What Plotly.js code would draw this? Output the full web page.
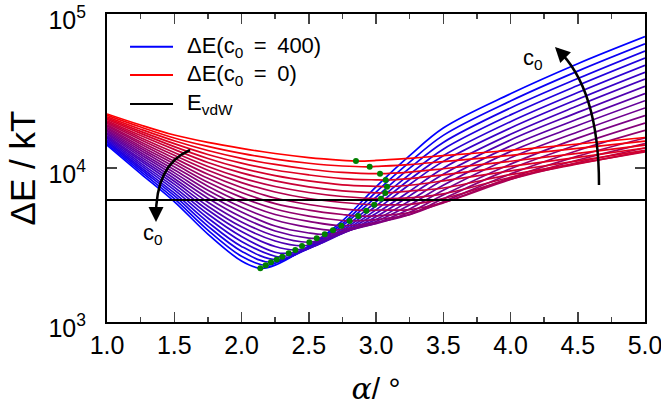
<!DOCTYPE html>
<html>
<head>
<meta charset="utf-8">
<script src="https://cdn.plot.ly/plotly-3.0.1.min.js"></script>
<style>html,body{margin:0;padding:0;background:#fff}</style>
</head>
<body>
<div id="graph" style="width:661px;height:412px"></div>
<script>
// opening angle alpha (deg) where the curves were read
const alphaGrid = [1.0, 1.25, 1.5, 1.75, 2.0, 2.25, 2.5, 2.75, 3.0, 3.25, 3.5, 4.0, 4.5, 5.0];

// log10(dE/kT), first row c0 = 0 (red) ... last row c0 = 400 (blue)
const curveLogE = [
  [4.351, 4.279, 4.214, 4.166, 4.127, 4.094, 4.068, 4.050, 4.049, 4.063, 4.080, 4.115, 4.156, 4.198],
  [4.342, 4.266, 4.195, 4.140, 4.095, 4.058, 4.031, 4.013, 4.010, 4.022, 4.042, 4.082, 4.128, 4.175],
  [4.333, 4.252, 4.177, 4.114, 4.063, 4.023, 3.992, 3.971, 3.964, 3.973, 3.995, 4.044, 4.095, 4.149],
  [4.325, 4.238, 4.158, 4.088, 4.032, 3.987, 3.955, 3.931, 3.923, 3.931, 3.955, 4.011, 4.069, 4.130],
  [4.316, 4.225, 4.139, 4.062, 3.999, 3.951, 3.916, 3.891, 3.881, 3.888, 3.916, 3.981, 4.046, 4.114],
  [4.307, 4.211, 4.121, 4.036, 3.968, 3.916, 3.878, 3.852, 3.839, 3.850, 3.870, 3.957, 4.030, 4.104],
  [4.298, 4.197, 4.101, 4.010, 3.936, 3.880, 3.841, 3.815, 3.801, 3.806, 3.832, 3.939, 4.027, 4.110],
  [4.290, 4.184, 4.083, 3.985, 3.905, 3.844, 3.802, 3.776, 3.762, 3.764, 3.801, 3.928, 4.035, 4.130],
  [4.281, 4.169, 4.064, 3.959, 3.873, 3.805, 3.763, 3.734, 3.727, 3.730, 3.776, 3.926, 4.052, 4.159],
  [4.272, 4.156, 4.045, 3.933, 3.841, 3.769, 3.727, 3.698, 3.689, 3.710, 3.773, 3.937, 4.077, 4.195],
  [4.263, 4.142, 4.027, 3.907, 3.809, 3.734, 3.688, 3.659, 3.665, 3.697, 3.781, 3.962, 4.114, 4.244],
  [4.255, 4.129, 4.008, 3.882, 3.777, 3.698, 3.653, 3.626, 3.646, 3.698, 3.801, 3.995, 4.152, 4.292],
  [4.245, 4.115, 3.989, 3.855, 3.745, 3.662, 3.614, 3.603, 3.639, 3.713, 3.824, 4.025, 4.194, 4.341],
  [4.237, 4.101, 3.970, 3.830, 3.714, 3.623, 3.578, 3.589, 3.642, 3.734, 3.855, 4.066, 4.234, 4.390],
  [4.228, 4.088, 3.951, 3.804, 3.682, 3.591, 3.545, 3.582, 3.653, 3.760, 3.888, 4.107, 4.276, 4.437],
  [4.219, 4.074, 3.932, 3.778, 3.650, 3.558, 3.518, 3.577, 3.665, 3.787, 3.923, 4.143, 4.318, 4.484],
  [4.210, 4.060, 3.914, 3.752, 3.618, 3.526, 3.501, 3.575, 3.684, 3.819, 3.960, 4.182, 4.361, 4.531],
  [4.202, 4.047, 3.895, 3.727, 3.587, 3.490, 3.482, 3.577, 3.705, 3.849, 3.999, 4.219, 4.404, 4.577],
  [4.193, 4.032, 3.876, 3.701, 3.555, 3.453, 3.478, 3.585, 3.728, 3.893, 4.043, 4.260, 4.447, 4.622],
  [4.184, 4.019, 3.858, 3.675, 3.523, 3.427, 3.477, 3.594, 3.753, 3.925, 4.080, 4.301, 4.490, 4.667],
  [4.175, 4.005, 3.838, 3.649, 3.491, 3.405, 3.478, 3.606, 3.780, 3.959, 4.122, 4.345, 4.536, 4.714],
  [4.167, 3.992, 3.820, 3.623, 3.460, 3.393, 3.483, 3.624, 3.811, 3.999, 4.166, 4.390, 4.581, 4.760],
  [4.158, 3.978, 3.801, 3.597, 3.427, 3.381, 3.488, 3.638, 3.844, 4.038, 4.212, 4.435, 4.629, 4.806],
  [4.149, 3.964, 3.782, 3.571, 3.396, 3.369, 3.493, 3.657, 3.878, 4.080, 4.260, 4.482, 4.677, 4.853]
];

// minima of each curve (green dots), same order as curveLogE
const minAlpha = [2.851, 2.953, 3.030, 3.072, 3.082, 3.069, 3.037, 2.987, 2.928, 2.868, 2.804, 2.742,
                  2.680, 2.619, 2.559, 2.504, 2.450, 2.400, 2.351, 2.303, 2.262, 2.219, 2.180, 2.140];
const minLogE = [4.045, 4.008, 3.963, 3.922, 3.879, 3.838, 3.801, 3.762, 3.723, 3.688, 3.656, 3.625,
                 3.595, 3.569, 3.544, 3.518, 3.494, 3.468, 3.446, 3.424, 3.405, 3.388, 3.368, 3.349];

const eVdW = 6200;

const legendNames = ["ΔE(c<sub>0</sub> \u2009=\u2009 400)", "ΔE(c<sub>0</sub> \u2009=\u2009 0)", "E<sub>vdW</sub>"];
const legendColors = ["rgb(0,0,255)", "rgb(255,0,0)", "black"];

const nCurves = curveLogE.length;
const traces = [];

// blue first so the red ones end up on top
for (let k = nCurves - 1; k >= 0; k--) {
    const t = k / (nCurves - 1);
    const pts = [];
    alphaGrid.forEach((a, i) => {
        if (Math.abs(a - minAlpha[k]) > 0.04) pts.push([a, curveLogE[k][i]]);
    });
    pts.push([minAlpha[k], minLogE[k]]);
    pts.sort((p, q) => p[0] - q[0]);

    traces.push({
        x: pts.map(p => p[0]),
        y: pts.map(p => Math.pow(10, p[1])),
        type: "scatter",
        mode: "lines",
        line: { color: `rgb(${Math.round(255 * (1 - t))},0,${Math.round(255 * t)})`, width: 1.7, shape: "spline", smoothing: 1 },
        name: k === 0 ? legendNames[1] : legendNames[0],
        hoverinfo: "skip"
    });
}

traces.push({
    x: [alphaGrid[0], alphaGrid[alphaGrid.length - 1]],
    y: [eVdW, eVdW],
    type: "scatter",
    mode: "lines",
    line: { color: "black", width: 2 },
    name: legendNames[2]
});

traces.push({
    x: minAlpha,
    y: minLogE.map(v => Math.pow(10, v)),
    type: "scatter",
    mode: "markers",
    marker: { color: "#008000", size: 6 }
});

// legend drawn by hand so the line samples get the reference length
const legendRows = [0.8938, 0.8019, 0.7078];
const shapes = legendRows.map((y, i) => ({
    type: "line", xref: "paper", yref: "paper", x0: 0.0428, x1: 0.1227, y0: y, y1: y,
    line: { color: legendColors[i], width: 2 }
}));
const annotations = legendRows.map((y, i) => ({
    xref: "paper", yref: "paper", x: 0.145, y: y, xanchor: "left", yanchor: "middle",
    text: legendNames[i], showarrow: false, font: { size: 22 }
}));

// curved c0 arrows
shapes.push(
    { type: "path", xref: "paper", yref: "paper", path: "M0.1543,0.5584 Q0.0892,0.5097 0.0911,0.3377", line: { color: "black", width: 2.5 } },
    { type: "path", xref: "paper", yref: "paper", path: "M0.9145,0.4448 C0.9145,0.6558 0.8885,0.8019 0.8364,0.8864", line: { color: "black", width: 2.5 } }
);
annotations.push(
    { xref: "paper", yref: "paper", x: 0.0911, y: 0.3247, ax: 0, ay: -10, text: "", showarrow: true, arrowhead: 2, arrowsize: 1.2, arrowwidth: 2.5, arrowcolor: "black" },
    { xref: "paper", yref: "paper", x: 0.063, y: 0.235, text: "c<sub>0</sub>", showarrow: false, font: { size: 22 } },
    { xref: "paper", yref: "paper", x: 0.8327, y: 0.8929, ax: 8, ay: 8, text: "", showarrow: true, arrowhead: 2, arrowsize: 1.2, arrowwidth: 2.5, arrowcolor: "black" },
    { xref: "paper", yref: "paper", x: 0.815, y: 0.905, text: "c<sub>0</sub>", showarrow: false, font: { size: 22 } }
);

const layout = {
    width: 661,
    height: 412,
    margin: { l: 107, r: 16, t: 14, b: 90 },
    paper_bgcolor: "white",
    plot_bgcolor: "white",
    font: { family: "Liberation Sans, Arial, sans-serif", size: 25, color: "black" },
    showlegend: false,
    xaxis: {
        range: [1, 5],
        tick0: 1,
        dtick: 0.5,
        tickformat: ".1f",
        ticks: "inside",
        ticklen: 10,
        tickwidth: 1.5,
        ticklabeloverflow: "allow",
        showline: true,
        linewidth: 2,
        linecolor: "black",
        mirror: "ticks",
        showgrid: false,
        zeroline: false,
        minor: { dtick: 0.25, ticks: "inside", ticklen: 5, tickwidth: 1.5, showgrid: false },
        title: { text: "<span style='font-family:DejaVu Serif'><i>α</i></span>/ °", font: { size: 30 }, standoff: 20 }
    },
    yaxis: {
        type: "log",
        range: [2.9999, 5.0001],
        tickvals: [1e3, 1e4, 1e5],
        ticktext: ["10<sup>3</sup>", "10<sup>4</sup>", "10<sup>5</sup>"],
        ticks: "inside",
        ticklen: 10,
        tickwidth: 1.5,
        ticklabeloverflow: "allow",
        ticklabelstandoff: 14,
        ticklabelshift: 6,
        showline: true,
        linewidth: 2,
        linecolor: "black",
        mirror: "ticks",
        showgrid: false,
        zeroline: false,
        title: { text: "ΔE / kT", font: { size: 35 }, standoff: 2 }
    },
    shapes: shapes,
    annotations: annotations
};

Plotly.newPlot("graph", traces, layout, { displayModeBar: false, staticPlot: true });
</script>
</body>
</html>
